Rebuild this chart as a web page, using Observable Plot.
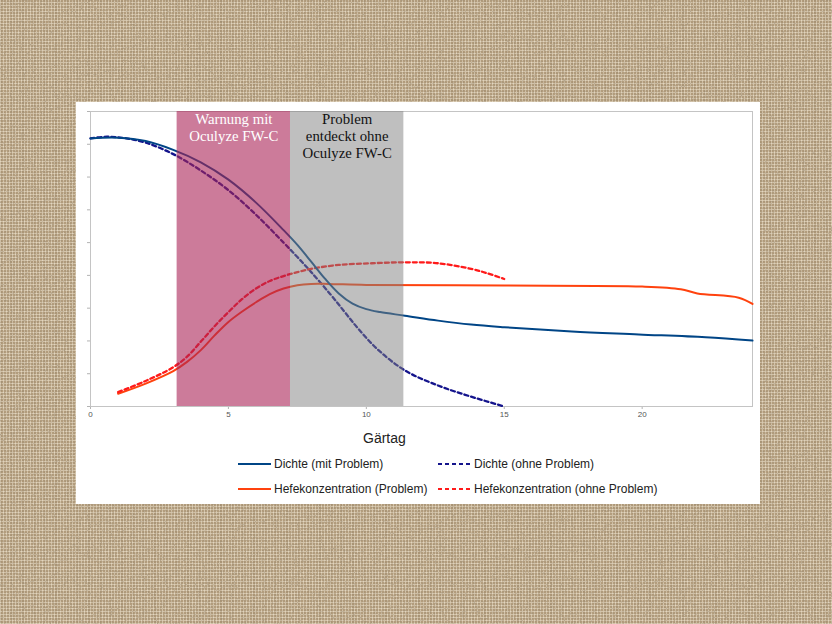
<!DOCTYPE html>
<html>
<head>
<meta charset="utf-8">
<script src="https://cdn.jsdelivr.net/npm/d3@7"></script>
<script src="https://cdn.jsdelivr.net/npm/@observablehq/plot@0.6"></script>
<style>
  html, body { margin: 0; padding: 0; }
  body {
    width: 832px; height: 624px; position: relative; overflow: hidden;
    background-color: #b39d7d;
    background-image:
      url("data:image/svg+xml,%3Csvg xmlns='http://www.w3.org/2000/svg' width='832' height='624'%3E%3Cfilter id='n'%3E%3CfeTurbulence type='fractalNoise' baseFrequency='0.7' numOctaves='2' seed='4'/%3E%3CfeColorMatrix values='0 0 0 0 0.33 0 0 0 0 0.26 0 0 0 0 0.17 0 0 0 1.6 -0.7'/%3E%3C/filter%3E%3Crect width='100%25' height='100%25' filter='url(%23n)'/%3E%3C/svg%3E"),
      repeating-linear-gradient(0deg, rgba(242,232,212,0.5) 0px, rgba(242,232,212,0.5) 1px, transparent 1px, transparent 3px),
      repeating-linear-gradient(90deg, rgba(242,232,212,0.5) 0px, rgba(242,232,212,0.5) 1px, transparent 1px, transparent 3px),
      repeating-linear-gradient(90deg, rgba(110,88,58,0.10) 0px, rgba(110,88,58,0.10) 2px, transparent 2px, transparent 11px);
    font-family: "Liberation Sans", Arial, sans-serif;
  }
  #card { position: absolute; left: 76px; top: 102px; width: 684px; height: 402px; background: #fff; }
  #chart { position: absolute; left: 0; top: 0; }
  #xlabel { position: absolute; left: 287px; top: 327px; font-size: 14px; line-height: 18px; color: #222; }
  .leg { position: absolute; font-size: 12px; line-height: 14px; color: #222; white-space: nowrap; }
  .leg svg { position: absolute; left: -36px; top: 2px; }
</style>
</head>
<body>
<div id="card">
  <div id="chart"></div>
  <div id="xlabel">Gärtag</div>
  <div id="legend"></div>
</div>
<script>
// ---- data ----
const xTicks = [0, 5, 10, 15, 20];
const yTicks = [0, 1, 2, 3, 4, 5, 6, 7, 8, 9];

const dichteMitDay = [0, 1, 2, 3, 4, 5, 6, 7, 7.5, 8, 8.5, 9, 9.5, 10, 10.5, 11.4, 12.6, 13.8, 15, 17.45, 19.88, 22.3, 24];
const dichteMitVal = [8.18, 8.2, 8.1, 7.83, 7.45, 6.92, 6.22, 5.38, 4.93, 4.42, 3.9, 3.45, 3.14, 2.97, 2.88, 2.77, 2.62, 2.5, 2.42, 2.29, 2.2, 2.11, 2.01];

const dichteOhneDay = [0, 0.6, 1.3, 2, 3, 4, 5, 6, 7, 7.5, 8, 8.7, 9.2, 9.7, 10.4, 11.4, 12.6, 13.8, 15];
const dichteOhneVal = [8.18, 8.23, 8.18, 8.05, 7.7, 7.2, 6.6, 5.85, 5.0, 4.56, 4.1, 3.42, 2.9, 2.38, 1.75, 1.1, 0.64, 0.3, 0];

const hefeMitDay = [1, 2, 3, 3.5, 4, 4.5, 5, 5.5, 6, 6.5, 7, 7.5, 8, 8.6, 10, 15, 20, 21.4, 22, 23.5, 24];
const hefeMitVal = [0.39, 0.7, 1.08, 1.36, 1.72, 2.17, 2.58, 2.9, 3.18, 3.43, 3.6, 3.7, 3.74, 3.74, 3.71, 3.69, 3.66, 3.58, 3.45, 3.32, 3.13];

const hefeOhneDay = [1, 2, 3, 3.5, 4, 4.5, 5, 5.5, 6, 6.5, 7, 7.5, 8, 9, 10.2, 11.4, 12.6, 13.8, 14.4, 15];
const hefeOhneVal = [0.44, 0.78, 1.2, 1.52, 1.98, 2.45, 2.88, 3.28, 3.6, 3.83, 3.98, 4.1, 4.2, 4.32, 4.37, 4.4, 4.37, 4.2, 4.06, 3.89];

const bandStart = [3.14, 7.25];
const bandEnd = [7.25, 11.36];
const bandText = ["Warnung mit\nOculyze FW-C", "Problem\nentdeckt ohne\nOculyze FW-C"];

const seriesNames = ["Dichte (mit Problem)", "Dichte (ohne Problem)", "Hefekonzentration (Problem)", "Hefekonzentration (ohne Problem)"];

// ---- styles ----
const seriesColor = ["#004586", "#14148c", "#ff420e", "#ff1a1a"];
const seriesDash = [null, "4,3", null, "4,3"];
const bandFill = ["#aa2357", "#808080"];
const bandOpacity = [0.6, 0.5];
const bandTextColor = ["#ffffff", "#111111"];

const toRows = (xs, ys) => xs.map((x, i) => ({x, y: ys[i]}));
const series = [
  toRows(dichteMitDay, dichteMitVal),
  toRows(dichteOhneDay, dichteOhneVal),
  toRows(hefeMitDay, hefeMitVal),
  toRows(hefeOhneDay, hefeOhneVal)
];
const bands = bandStart.map((s, i) => ({x1: s, x2: bandEnd[i], text: bandText[i], fill: bandFill[i], op: bandOpacity[i], tc: bandTextColor[i]}));

const lineMarks = series.map((rows, i) => Plot.line(rows, {
  x: "x", y: "y", stroke: seriesColor[i], strokeWidth: seriesDash[i] ? 2.3 : 2,
  strokeDasharray: seriesDash[i], curve: "catmull-rom"
}));

const chart = Plot.plot({
  width: 684, height: 326,
  marginLeft: 14, marginRight: 8, marginTop: 9, marginBottom: 22,
  style: {background: "transparent", fontFamily: "Liberation Sans, Arial, sans-serif"},
  x: {domain: [0, 24]},
  y: {domain: [0, 9]},
  marks: [
    Plot.axisY({ticks: yTicks, tickSize: 3, tickFormat: () => "", stroke: "#b3b3b3", label: null}),
    Plot.axisX({ticks: xTicks, tickSize: 3, tickPadding: 2, fontSize: 8, stroke: "#b3b3b3", fill: "#555", label: null}),
    Plot.frame({stroke: "#c4c4c4"}),
    ...lineMarks.filter((_, i) => i !== 0),
    lineMarks[0],
    Plot.rect(bands, {x1: "x1", x2: "x2", y1: 0, y2: 9, fill: d => d.fill, fillOpacity: d => d.op}),
    Plot.text(bands, {
      x: d => (d.x1 + d.x2) / 2, y: 9, text: "text", lineAnchor: "top", dy: 0,
      fill: d => d.tc, fontFamily: "Liberation Serif, Times New Roman, serif", fontSize: 14.8, lineHeight: 1.15
    })
  ]
});
document.getElementById("chart").appendChild(chart);

// ---- legend ----
const legPos = [[198, 355], [398, 355], [198, 380], [398, 380]];
const legend = document.getElementById("legend");
seriesNames.forEach((name, i) => {
  const div = document.createElement("div");
  div.className = "leg";
  div.style.left = legPos[i][0] + "px";
  div.style.top = legPos[i][1] + "px";
  div.innerHTML = `<svg width="33" height="10"><line x1="0" x2="33" y1="5" y2="5" stroke="${seriesColor[i]}" stroke-width="2"${seriesDash[i] ? ` stroke-dasharray="4,3"` : ""}/></svg>` + name;
  legend.appendChild(div);
});
</script>
</body>
</html>
